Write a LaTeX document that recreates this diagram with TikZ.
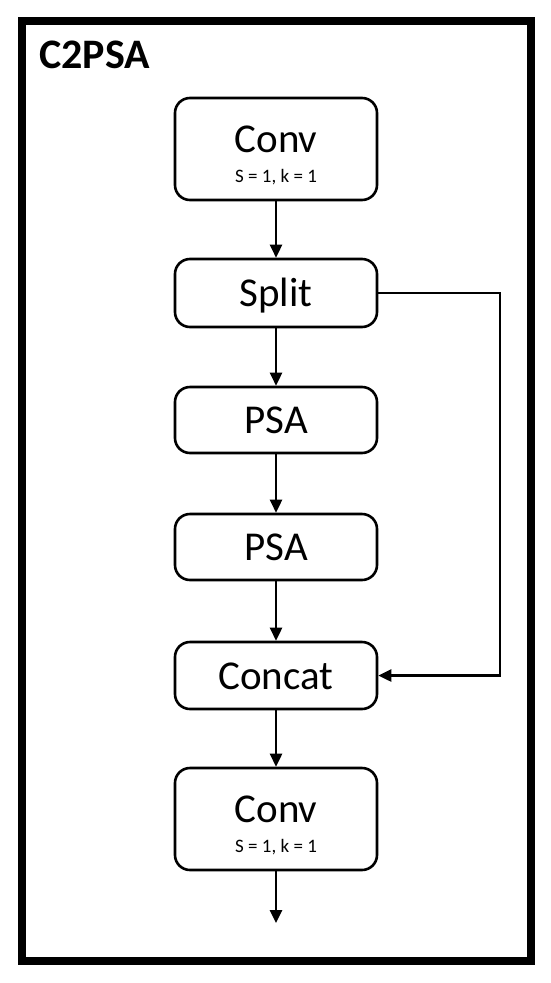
\documentclass[tikz,border=0pt]{standalone}
\usepackage{fontspec}
\setmainfont{Carlito}
\usetikzlibrary{arrows.meta}
\begin{document}
\begin{tikzpicture}[x=1pt,y=-1pt,
  blk/.style={draw=black, line width=2.6pt, rounded corners=15pt, minimum width=202pt, inner sep=0pt, fill=white},
  bigtxt/.style={font=\fontsize{41}{48}\selectfont, inner sep=0pt, anchor=base},
  smalltxt/.style={font=\fontsize{19}{22}\selectfont, inner sep=0pt, anchor=base},
  flow/.style={line width=2.6pt, -{Triangle[length=13pt,width=12pt]}}]
\useasboundingbox (0,0) rectangle (550,983);
\draw[line width=8pt] (22,21) rectangle (530.5,961);
\node[font=\fontsize{42}{50}\selectfont\bfseries, inner sep=0pt, anchor=base west] (title) at (39,68) {C2PSA};

\node[blk, minimum height=102pt] (conv1) at (276,149) {};
\node[bigtxt] (conv1t) at (276,152) {Conv};
\node[smalltxt] (conv1s) at (276,182) {S = 1, k = 1};

\node[blk, minimum height=68pt] (split) at (276,293) {};
\node[bigtxt] (splitt) at (276,306) {Split};

\node[blk, minimum height=66pt] (psa1) at (276,420) {};
\node[bigtxt] (psa1t) at (276,433) {PSA};

\node[blk, minimum height=66pt] (psa2) at (276,547) {};
\node[bigtxt] (psa2t) at (276,560) {PSA};

\node[blk, minimum height=67pt] (concat) at (276,675.5) {};
\node[bigtxt] (concatt) at (276,689) {Concat};

\node[blk, minimum height=102pt] (conv2) at (276,819) {};
\node[bigtxt] (conv2t) at (276,822) {Conv};
\node[smalltxt] (conv2s) at (276,852) {S = 1, k = 1};

\coordinate (out) at (276,923);

\draw[flow] (conv1.south) -- (split.north);
\draw[flow] (split.south) -- (psa1.north);
\draw[flow] (psa1.south) -- (psa2.north);
\draw[flow] (psa2.south) -- (concat.north);
\draw[flow] (concat.south) -- (conv2.north);
\draw[flow] (conv2.south) -- (out);
\draw[flow, rounded corners=0pt] (split.east) -- (500,293) -- (500,675.5) -- (concat.east);
\end{tikzpicture}
\end{document}
